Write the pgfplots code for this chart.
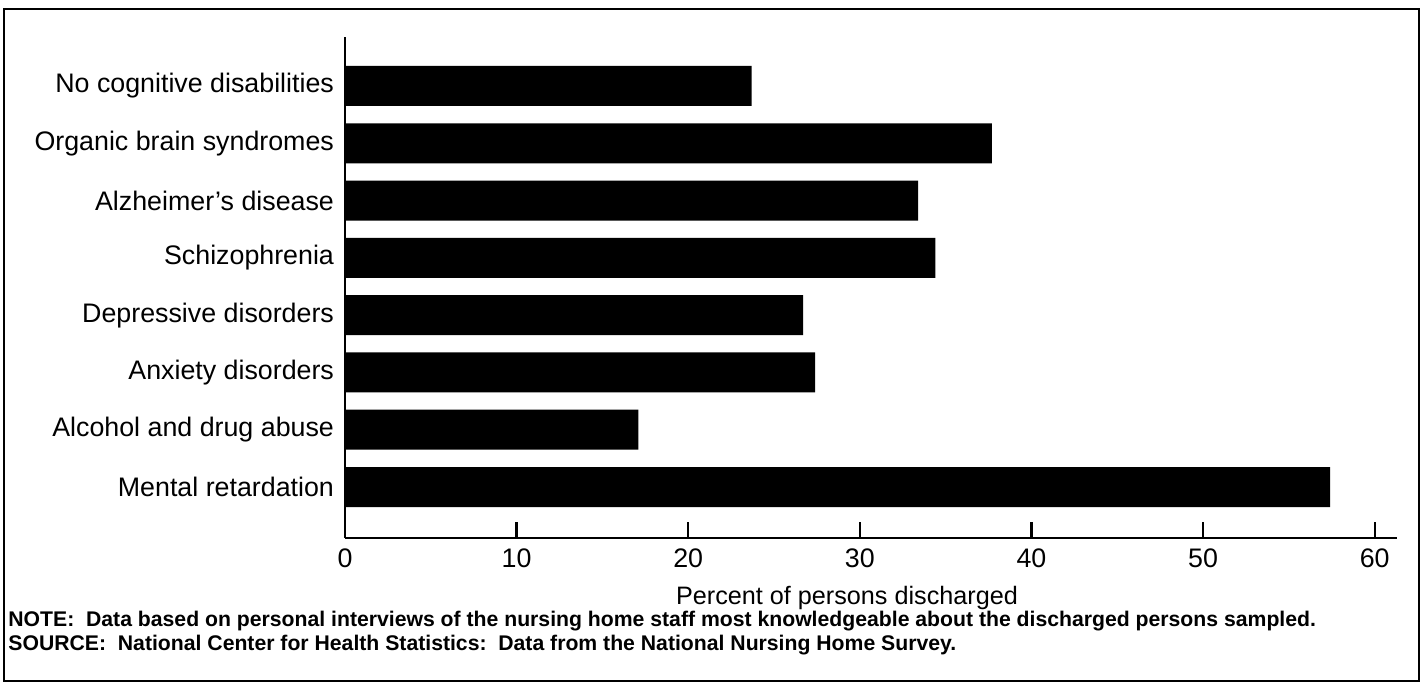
\documentclass[border=0pt]{standalone}
\usepackage{fontspec}
\setmainfont{Liberation Sans}
\usepackage{pgfplots}
\pgfplotsset{compat=1.18}
\begin{document}
\begin{tikzpicture}[x=0.5pt,y=0.5pt]
\path[use as bounding box] (0,0) rectangle (1426,684);
\draw[line width=1.1pt] (4,3) rectangle (1419,675);
\begin{axis}[
  at={(172.5pt,73pt)}, anchor=south west,
  scale only axis, width=526pt, height=250.5pt,
  xmin=0, xmax=61.3, ymin=-0.89, ymax=7.855,
  xbar, bar width=20pt,
  axis x line*=bottom, axis y line*=left,
  axis line style={-, line width=1.3pt},
  xtick={0,10,20,30,40,50,60},
  tick align=inside, major tick length=8pt,
  xtick style={line width=1.2pt, black},
  ytick={0,1,2,3,4,5,6,7},
  yticklabels={Mental retardation, Alcohol and drug abuse, Anxiety disorders, Depressive disorders, Schizophrenia, Alzheimer's disease, Organic brain syndromes, No cognitive disabilities},
  ytick style={draw=none},
  yticklabel style={font=\fontsize{13.4}{15}\selectfont, xshift=-2pt},
  xticklabel style={font=\fontsize{13.4}{15}\selectfont, yshift=-2pt},
  /pgf/number format/assume math mode=true,
]
\addplot[fill=black, draw=none] coordinates {
(57.4,0) (17.1,1) (27.4,2) (26.7,3) (34.4,4) (33.4,5) (37.7,6) (23.7,7)};
\end{axis}
\node[font=\fontsize{12.6}{15}\selectfont] at (847,86) {Percent of persons discharged};
\node[anchor=west, font=\fontsize{10.6}{12}\selectfont\bfseries, inner sep=0pt] at (8,63) {NOTE:\ \ Data based on personal interviews of the nursing home staff most knowledgeable about the discharged persons sampled.};
\node[anchor=west, font=\fontsize{10.6}{12}\selectfont\bfseries, inner sep=0pt] at (8,39) {SOURCE:\ \ National Center for Health Statistics:\ \ Data from the National Nursing Home Survey.};
\end{tikzpicture}
\end{document}
